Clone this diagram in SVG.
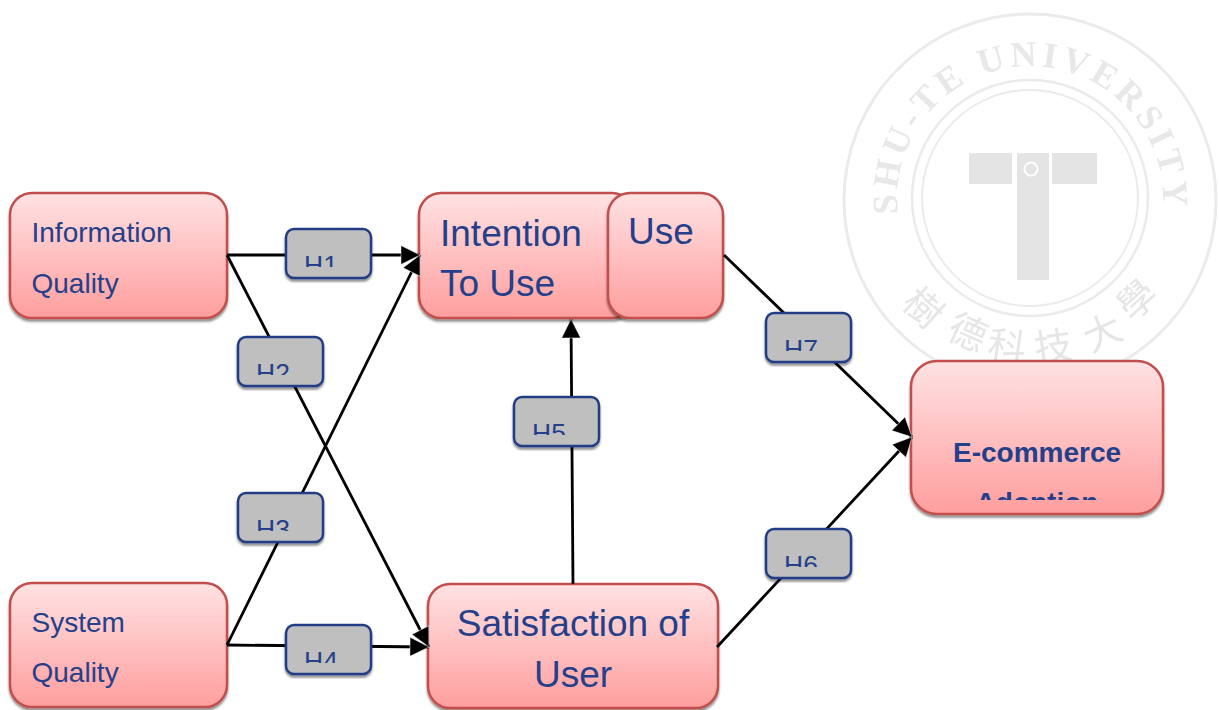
<svg xmlns="http://www.w3.org/2000/svg" width="1219" height="710" viewBox="0 0 1219 710">
<style>
.node{fill:url(#pink);stroke:#c0504d;stroke-width:2.5;filter:url(#sh)}
.hyp{fill:#bfbfbf;stroke:#233e86;stroke-width:2.5;filter:url(#sh)}
text{font-family:"Liberation Sans",Arial,sans-serif;fill:#25408a}
.h{font-size:26.5px}
.s{font-size:28px}
.l{font-size:37px}
.ring{fill:none;stroke:#ebebeb}
.wm{fill:#e4e4e4}
.wt{font-family:"Liberation Serif",serif;font-size:36px;fill:#e8e8e8;font-weight:700}
.wc{font-family:"Noto Sans CJK TC",sans-serif;font-size:38px;fill:#e6e6e6;text-anchor:middle}
.c{fill:none;stroke:#000;stroke-width:2.8;marker-end:url(#ah)}
</style>
<defs>
<linearGradient id="pink" x1="0" y1="0" x2="0" y2="1"><stop offset="0" stop-color="#ffe2e3"/><stop offset="1" stop-color="#ff9e9e"/></linearGradient>
<filter id="sh" x="-5%" y="-5%" width="110%" height="115%"><feDropShadow dx="0" dy="2.5" stdDeviation="1" flood-color="#000" flood-opacity=".45"/></filter>
<filter id="soft"><feGaussianBlur stdDeviation=".7"/></filter>
<marker id="ah" markerUnits="userSpaceOnUse" markerWidth="24" markerHeight="24" refX="20" refY="12" orient="auto"><path d="M1 2.5L20 12L1 21.5Z" fill="#000" stroke="#fff" stroke-width=".5"/></marker>
<path id="arcTop" d="M898 214A133 133 0 1 1 1163 206"/>
<clipPath id="c1"><rect x="280" y="225" width="95" height="42"/></clipPath>
<clipPath id="c2"><rect x="232" y="333" width="95" height="42"/></clipPath>
<clipPath id="c3"><rect x="232" y="489" width="95" height="42"/></clipPath>
<clipPath id="c4"><rect x="280" y="621" width="95" height="42"/></clipPath>
<clipPath id="c5"><rect x="508" y="393" width="95" height="42"/></clipPath>
<clipPath id="c6"><rect x="760" y="525" width="95" height="42"/></clipPath>
<clipPath id="c7"><rect x="760" y="309" width="95" height="42"/></clipPath>
<clipPath id="c8"><rect x="920" y="470" width="240" height="30"/></clipPath>
</defs>
<g id="watermark" filter="url(#soft)">
<circle class="ring" cx="1030" cy="200" r="186" stroke-width="3"/>
<circle class="ring" cx="1030" cy="198" r="118" stroke-width="2.5"/>
<circle class="ring" cx="1030" cy="198" r="108" stroke-width="2"/>
<rect class="wm" x="969" y="153" width="43" height="31"/>
<rect class="wm" x="1052" y="153" width="45" height="31"/>
<rect class="wm" x="1017" y="153" width="32" height="127"/>
<circle cx="1031" cy="169" r="6.5" fill="none" stroke="#fff" stroke-width="2"/>
<text class="wt"><textPath href="#arcTop" textLength="440" lengthAdjust="spacing">SHU-TE UNIVERSITY</textPath></text>
<text class="wc" transform="translate(914 318) rotate(42)">樹</text>
<text class="wc" transform="translate(962 345) rotate(24)">德</text>
<text class="wc" transform="translate(1005 360) rotate(8)">科</text>
<text class="wc" transform="translate(1055 360) rotate(-8)">技</text>
<text class="wc" transform="translate(1108 345) rotate(-24)">大</text>
<text class="wc" transform="translate(1146 310) rotate(-42)">學</text>
</g>
<g id="information-quality"><rect class="node" x="10" y="193" width="217" height="125" rx="22"/><text class="s" x="31.500" y="242">Information</text><text class="s" x="31.500" y="293">Quality</text></g>
<g id="system-quality"><rect class="node" x="10" y="583" width="217" height="124" rx="22"/><text class="s" x="31.500" y="632">System</text><text class="s" x="31.500" y="682">Quality</text></g>
<g id="intention-to-use"><rect class="node" x="419" y="193" width="215" height="125" rx="22"/><text class="l" x="440" y="246">Intention</text><text class="l" x="440" y="296">To Use</text></g>
<g id="use"><rect class="node" x="608" y="193" width="115" height="125" rx="22"/><text class="l" x="628" y="244">Use</text></g>
<g id="satisfaction"><rect class="node" x="428" y="584" width="290" height="124" rx="22"/><text class="l" x="573" y="636" text-anchor="middle">Satisfaction of</text><text class="l" x="573" y="687" text-anchor="middle">User</text></g>
<g id="ecommerce"><rect class="node" x="911" y="361" width="252" height="153" rx="26"/><text x="1037" y="462" text-anchor="middle" font-size="28" font-weight="700">E-commerce</text><text clip-path="url(#c8)" x="1037" y="512" text-anchor="middle" font-size="28" font-weight="700">Adoption</text></g>
<g id="connectors">
<path class="c" d="M227 255H420"/>
<path class="c" d="M227 255L429 647"/>
<path class="c" d="M227 645L420 255"/>
<path class="c" d="M227 645L429 647"/>
<path class="c" d="M573 584L571 319"/>
<path class="c" d="M724 255L912 437"/>
<path class="c" d="M717 647L912 437"/>
</g>
<g id="h1"><rect class="hyp" x="286" y="229" width="85" height="49" rx="8"/><text class="h" clip-path="url(#c1)" x="304" y="274">H1</text></g>
<g id="h2"><rect class="hyp" x="238" y="337" width="85" height="49" rx="8"/><text class="h" clip-path="url(#c2)" x="256" y="382">H2</text></g>
<g id="h3"><rect class="hyp" x="238" y="493" width="85" height="49" rx="8"/><text class="h" clip-path="url(#c3)" x="256" y="538">H3</text></g>
<g id="h4"><rect class="hyp" x="286" y="625" width="85" height="49" rx="8"/><text class="h" clip-path="url(#c4)" x="304" y="670">H4</text></g>
<g id="h5"><rect class="hyp" x="514" y="397" width="85" height="49" rx="8"/><text class="h" clip-path="url(#c5)" x="532" y="442">H5</text></g>
<g id="h6"><rect class="hyp" x="766" y="529" width="85" height="49" rx="8"/><text class="h" clip-path="url(#c6)" x="784" y="574">H6</text></g>
<g id="h7"><rect class="hyp" x="766" y="313" width="85" height="49" rx="8"/><text class="h" clip-path="url(#c7)" x="784" y="358">H7</text></g>
</svg>
